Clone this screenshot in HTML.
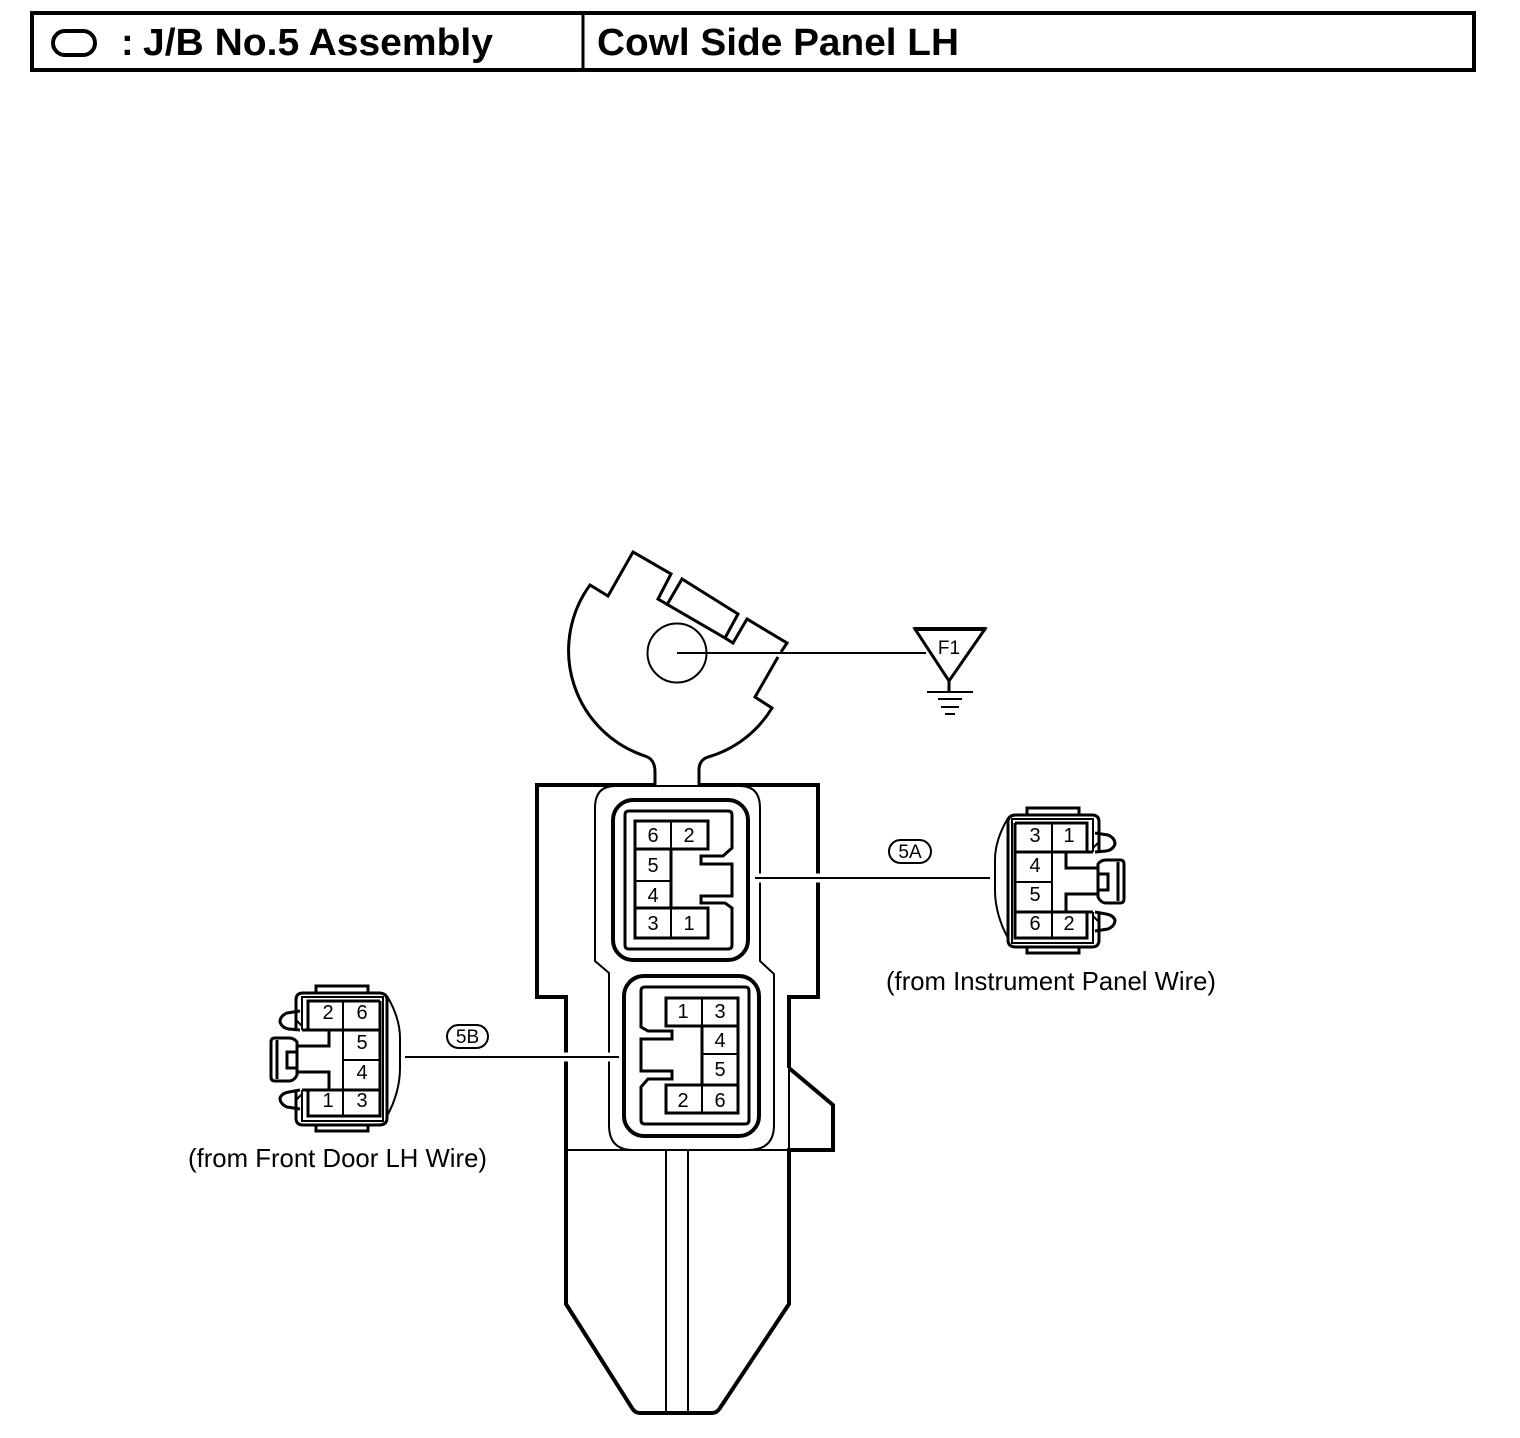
<!DOCTYPE html>
<html><head><meta charset="utf-8"><style>
html,body{margin:0;padding:0;background:#fff}
svg{display:block}
text{font-family:"Liberation Sans",sans-serif;fill:#000}
.d{font-size:20px;text-anchor:middle}
path,rect,line,circle{fill:none;stroke:#000}
.t1{stroke-width:1.5}.t2{stroke-width:2}.t3{stroke-width:3}.t4{stroke-width:4}
</style></head><body>
<svg width="1520" height="1438" viewBox="0 0 1520 1438" xmlns="http://www.w3.org/2000/svg">
<defs></defs>
<!-- header -->
<rect class="t4" x="32" y="13" width="1442" height="57"/>
<line class="t3" x1="583" y1="13" x2="583" y2="70"/>
<rect class="t4" x="53" y="31" width="42" height="24" rx="12"/>
<text x="121" y="55" font-size="38" font-weight="bold">:</text>
<text x="143" y="55" font-size="38" font-weight="bold" textLength="350" lengthAdjust="spacingAndGlyphs">J/B No.5 Assembly</text>
<text x="597" y="55" font-size="38" font-weight="bold" textLength="362" lengthAdjust="spacingAndGlyphs">Cowl Side Panel LH</text>

<!-- head -->
<path class="t3" d="M655 785V772Q655 759 645 756A111 111 0 0 1 590 585L608 596L633 552L671 574L658 599L725 638L738 614L682 579L668 603M725 638L733 643L747 619L787 643L781 652M778 657L755 697L772 708A111 111 0 0 1 708 757Q699 760 699 770V785"/>
<circle class="t2" cx="677" cy="653" r="29.5"/>
<line class="t2" x1="677" y1="653" x2="926" y2="653"/>
<path class="t3" style="fill:#fff" d="M915 629H985L949 681Z"/>
<line class="t2" x1="677" y1="653" x2="926" y2="653"/>
<line class="t4" x1="914" y1="629" x2="986" y2="629"/>
<text x="949" y="654" font-size="19" text-anchor="middle">F1</text>
<line class="t3" x1="949" y1="680" x2="949" y2="692"/>
<line class="t2" x1="927" y1="692" x2="973" y2="692"/>
<line class="t2" x1="938" y1="699" x2="962" y2="699"/>
<line class="t2" x1="941" y1="707" x2="959" y2="707"/>
<line class="t2" x1="945" y1="714" x2="955" y2="714"/>

<!-- body -->
<path class="t4" d="M655 785H537V997H566V1150M699 785H818V997H789V1068M789 1068L833 1105V1150H789V1304L720 1408Q717 1413 712 1413H640Q635 1413 632 1408L566 1304V1150"/>
<line class="t2" x1="789" y1="1068" x2="789" y2="1150"/>
<line class="t2" x1="566" y1="1150" x2="789" y2="1150"/>
<line class="t2" x1="655" y1="786" x2="699" y2="786"/>
<line class="t2" x1="666" y1="1150" x2="666" y2="1413"/>
<line class="t2" x1="688" y1="1150" x2="688" y2="1413"/>
<path class="t2" d="M615 786H740Q760 786 760 808V961L774 974V1125Q774 1150 748 1150H633Q609 1150 609 1125V973L595 961V808Q595 786 615 786Z"/>

<!-- top socket -->
<rect class="t4" x="613" y="800" width="135" height="160" rx="20"/>
<path class="t3" d="M629 811H728Q732 811 732 815V848L723 856H701V864H732V896H701V903H725L732 908V945Q732 949 728 949H629Q625 949 625 945V815Q625 811 629 811Z"/>
<path class="t3" d="M635 821H708V849H671V908H708V938H635Z"/>
<line class="t2" x1="671" y1="821" x2="671" y2="938"/>
<line class="t3" x1="635" y1="849" x2="671" y2="849"/>
<line class="t2" x1="635" y1="881" x2="671" y2="881"/>
<line class="t3" x1="635" y1="908" x2="671" y2="908"/>
<text class="d" x="653" y="842">6</text><text class="d" x="689" y="842">2</text>
<text class="d" x="653" y="872">5</text><text class="d" x="653" y="902">4</text>
<text class="d" x="653" y="930">3</text><text class="d" x="689" y="930">1</text>

<!-- bottom socket -->
<rect class="t4" x="624" y="976" width="135" height="160" rx="20"/>
<path class="t3" d="M645 987H745Q749 987 749 991V1120Q749 1124 745 1124H645Q641 1124 641 1120V1087L648 1079H672V1071H641V1039H672V1031H648L641 1027V991Q641 987 645 987Z"/>
<path class="t3" d="M666 998H738V1113H666V1085H702V1026H666Z"/>
<line class="t2" x1="702" y1="998" x2="702" y2="1113"/>
<line class="t2" x1="702" y1="1054" x2="738" y2="1054"/>
<line class="t3" x1="702" y1="1026" x2="738" y2="1026"/>
<line class="t3" x1="702" y1="1085" x2="738" y2="1085"/>
<text class="d" x="683" y="1018">1</text><text class="d" x="720" y="1018">3</text>
<text class="d" x="720" y="1047">4</text><text class="d" x="720" y="1076">5</text>
<text class="d" x="683" y="1107">2</text><text class="d" x="720" y="1107">6</text>

<!-- leaders -->
<line style="stroke:#fff" stroke-width="9" x1="755" y1="878" x2="990" y2="878"/>
<line class="t2" x1="755" y1="878" x2="990" y2="878"/>
<line style="stroke:#fff" stroke-width="9" x1="405" y1="1057" x2="619" y2="1057"/>
<line class="t2" x1="405" y1="1057" x2="619" y2="1057"/>

<!-- 5A connector -->
<g>
<path class="t3" d="M1027 815V808H1079V815M1027 947V953H1079V947"/>
<path class="t3" d="M1099 852V822Q1099 815 1092 815H1016Q1008 815 1008 822V940Q1008 947 1016 947H1092Q1099 947 1099 940V912"/>
<path class="t2" d="M1093 852V819H1012V943H1093V912"/>
<path class="t2" d="M1008 818Q995 840 995 860V890Q995 915 1009 940"/>
<path class="t3" d="M1015 823H1087V852M1015 823V938H1087V912"/>
<line class="t2" x1="1052" y1="823" x2="1052" y2="938"/>
<path class="t3" d="M1015 852H1093M1015 912H1093M1066 852V868H1098V894H1066V912"/>
<line class="t2" x1="1015" y1="882" x2="1052" y2="882"/>
<path class="t3" d="M1098 868V864Q1101 860 1106 860H1120Q1124 860 1124 864V899Q1124 903 1120 903H1106Q1101 903 1098 897V894"/>
<line class="t3" x1="1118" y1="862" x2="1118" y2="901"/>
<path class="t3" d="M1098 874H1108V890H1098"/>
<path class="t3" d="M1095 833L1108 835Q1115 838 1115 844Q1113 850 1106 851L1095 852"/>
<path class="t3" d="M1095 912L1106 914Q1113 915 1115 920Q1115 926 1108 929L1095 931"/>
<path class="t2" d="M1093 848L1099 842M1093 916L1099 922"/>
</g>
<text class="d" x="1035" y="842">3</text><text class="d" x="1069" y="842">1</text>
<text class="d" x="1035" y="872">4</text><text class="d" x="1035" y="901">5</text>
<text class="d" x="1035" y="930">6</text><text class="d" x="1069" y="930">2</text>

<!-- 5B connector (mirror of 5A) -->
<g transform="translate(1395,178) scale(-1,1)">
<path class="t3" d="M1027 815V808H1079V815M1027 947V953H1079V947"/>
<path class="t3" d="M1099 852V822Q1099 815 1092 815H1016Q1008 815 1008 822V940Q1008 947 1016 947H1092Q1099 947 1099 940V912"/>
<path class="t2" d="M1093 852V819H1012V943H1093V912"/>
<path class="t2" d="M1008 818Q995 840 995 860V890Q995 915 1009 940"/>
<path class="t3" d="M1015 823H1087V852M1015 823V938H1087V912"/>
<line class="t2" x1="1052" y1="823" x2="1052" y2="938"/>
<path class="t3" d="M1015 852H1093M1015 912H1093M1066 852V868H1098V894H1066V912"/>
<line class="t2" x1="1015" y1="882" x2="1052" y2="882"/>
<path class="t3" d="M1098 868V864Q1101 860 1106 860H1120Q1124 860 1124 864V899Q1124 903 1120 903H1106Q1101 903 1098 897V894"/>
<line class="t3" x1="1118" y1="862" x2="1118" y2="901"/>
<path class="t3" d="M1098 874H1108V890H1098"/>
<path class="t3" d="M1095 833L1108 835Q1115 838 1115 844Q1113 850 1106 851L1095 852"/>
<path class="t3" d="M1095 912L1106 914Q1113 915 1115 920Q1115 926 1108 929L1095 931"/>
<path class="t2" d="M1093 848L1099 842M1093 916L1099 922"/>
</g>
<text class="d" x="328" y="1019">2</text><text class="d" x="362" y="1019">6</text>
<text class="d" x="362" y="1049">5</text><text class="d" x="362" y="1079">4</text>
<text class="d" x="328" y="1107">1</text><text class="d" x="362" y="1107">3</text>

<!-- labels -->
<rect class="t2" x="889" y="840" width="42" height="23" rx="11.5"/>
<text x="910" y="858" font-size="19" text-anchor="middle">5A</text>
<rect class="t2" x="447" y="1025" width="41" height="23" rx="11.5"/>
<text x="467.5" y="1043" font-size="19" text-anchor="middle">5B</text>
<text x="886" y="990" font-size="26" textLength="330" lengthAdjust="spacingAndGlyphs">(from Instrument Panel Wire)</text>
<text x="188" y="1167" font-size="26" textLength="299" lengthAdjust="spacingAndGlyphs">(from Front Door LH Wire)</text>
</svg>
</body></html>
